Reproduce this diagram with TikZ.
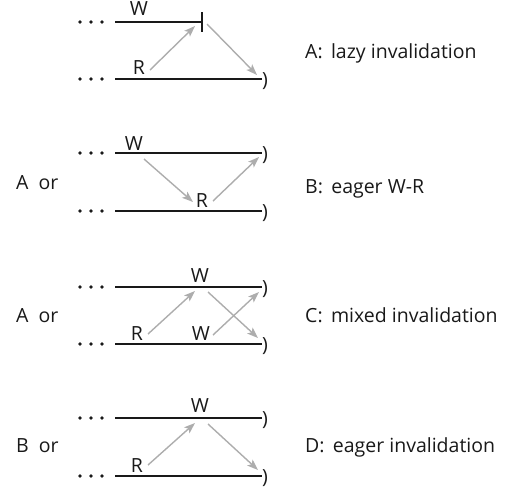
\documentclass[tikz,border=0pt]{standalone}
\usepackage{fontspec}
\setmainfont{Open Sans}
\usetikzlibrary{arrows.meta}
\tikzset{
  txt/.style={font=\fontsize{19.5}{22}\selectfont, inner sep=0pt, text=black!90},
  lab/.style={txt, anchor=base},
  side/.style={txt, anchor=base west},
  par/.style={txt, anchor=west},
  tline/.style={line width=1.6pt, black!90},
  garr/.style={draw=black!32, line width=1.4pt, -{Stealth[length=11pt,width=8pt,inset=2.5pt]}},
  dotc/.style={fill=black!90}
}
\newcommand{\threedots}[1]{%
  \fill[dotc] (80,#1) circle (1.9);
  \fill[dotc] (91,#1) circle (1.9);
  \fill[dotc] (102,#1) circle (1.9);}
\begin{document}
\begin{tikzpicture}[x=1pt,y=-1pt]
\useasboundingbox (0,0) rectangle (510,488);

% ---------- A ----------
\threedots{22}
\threedots{79}
\coordinate (a1s) at (115,22);
\coordinate (a1e) at (202,22);
\coordinate (a1bt) at (202,12);
\coordinate (a1bb) at (202,32);
\draw[tline] (a1s) -- (a1e);
\draw[tline] (a1bt) -- (a1bb);
\coordinate (a2s) at (115,79);
\node[par] (a2p) at (262,81) {)};
\draw[tline] (a2s) -- (a2p.west |- a2s);
\node[lab] (aW) at (139,15) {W};
\node[lab] (aR) at (139,74) {R};
\coordinate (aR0) at (150,70);
\coordinate (aR1) at (195,26);
\coordinate (aW0) at (207,24);
\coordinate (aW1) at (257,75);
\draw[garr] (aR0) -- (aR1);
\draw[garr] (aW0) -- (aW1);
\node[side] (aT) at (305,58) {A:\, lazy invalidation};

% ---------- B ----------
\threedots{153}
\threedots{211}
\coordinate (b1s) at (115,153);
\node[par] (b1p) at (262,155) {)};
\draw[tline] (b1s) -- (b1p.west |- b1s);
\coordinate (b2s) at (115,211);
\node[par] (b2p) at (262,213) {)};
\draw[tline] (b2s) -- (b2p.west |- b2s);
\node[lab] (bW) at (134,150) {W};
\node[lab] (bR) at (202,207) {R};
\coordinate (bW0) at (144,159);
\coordinate (bW1) at (193,202);
\coordinate (bR0) at (213,201);
\coordinate (bR1) at (259,157);
\draw[garr] (bW0) -- (bW1);
\draw[garr] (bR0) -- (bR1);
\node[side] (bO) at (16,189) {A\ \ or};
\node[side] (bT) at (305,193) {B:\, eager W-R};

% ---------- C ----------
\threedots{287}
\threedots{344}
\coordinate (c1s) at (115,287);
\node[par] (c1p) at (262,289) {)};
\draw[tline] (c1s) -- (c1p.west |- c1s);
\coordinate (c2s) at (115,344);
\node[par] (c2p) at (262,346) {)};
\draw[tline] (c2s) -- (c2p.west |- c2s);
\node[lab] (cW) at (200,282) {W};
\node[lab] (cR) at (137,340) {R};
\node[lab] (cW2) at (201,340) {W};
\coordinate (cR0) at (148,334);
\coordinate (cR1) at (195,291);
\coordinate (cW0) at (208,292);
\coordinate (cW1) at (258,338);
\coordinate (cV0) at (213,335);
\coordinate (cV1) at (259,292);
\draw[garr] (cR0) -- (cR1);
\draw[garr] (cW0) -- (cW1);
\draw[garr] (cV0) -- (cV1);
\node[side] (cO) at (16,322) {A\ \ or};
\node[side] (cT) at (305,322) {C:\, mixed invalidation};

% ---------- D ----------
\threedots{418}
\threedots{476}
\coordinate (d1s) at (115,418);
\node[par] (d1p) at (262,420) {)};
\draw[tline] (d1s) -- (d1p.west |- d1s);
\coordinate (d2s) at (115,476);
\node[par] (d2p) at (262,478) {)};
\draw[tline] (d2s) -- (d2p.west |- d2s);
\node[lab] (dW) at (200,412) {W};
\node[lab] (dR) at (137,472) {R};
\coordinate (dR0) at (148,465);
\coordinate (dR1) at (195,423);
\coordinate (dW0) at (208,424);
\coordinate (dW1) at (258,470);
\draw[garr] (dR0) -- (dR1);
\draw[garr] (dW0) -- (dW1);
\node[side] (dO) at (16,452) {B\ \ or};
\node[side] (dT) at (305,452) {D:\, eager invalidation};
\end{tikzpicture}
\end{document}
